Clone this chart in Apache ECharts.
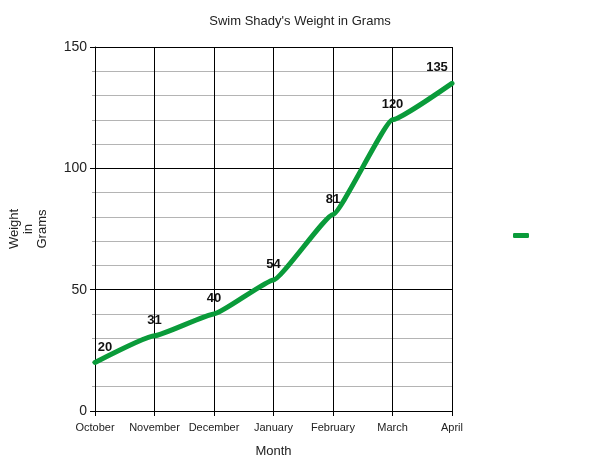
<!DOCTYPE html>
<html>
<head>
<meta charset="utf-8">
<script src="https://cdn.jsdelivr.net/npm/echarts@6/dist/echarts.min.js"></script>
<style>
html,body{margin:0;padding:0;background:#fff;}
#chart{width:600px;height:463px;}
</style>
</head>
<body>
<div id="chart"></div>
<script>
//数据
var months = ['October', 'November', 'December', 'January', 'February', 'March', 'April'];
var weights = [20, 31, 40, 54, 81, 120, 135];
var yTicks = [0, 50, 100, 150];

//折线图
var weightChart = echarts.init(document.getElementById('chart'));
var optionLine = {
    backgroundColor: '#fff',
    textStyle: {fontFamily: 'Liberation Sans, Arial, sans-serif'},
    title: {
        text: "Swim Shady's Weight in Grams",
        left: 'center',
        top: 10,
        textStyle: {fontSize: 13, fontWeight: 'normal', color: '#222'}
    },
    color: ['#0a9b3a'],
    legend: {
        left: 508,
        top: 228,
        icon: 'roundRect',
        itemWidth: 16,
        itemHeight: 5,
        formatter: function () { return ''; },
        selectedMode: false
    },
    grid: {
        left: 95,
        right: 148,
        top: 47,
        bottom: 52,
        outerBoundsMode: 'none'
    },
    xAxis: {
        type: 'category',
        boundaryGap: false,
        data: months,
        name: 'Month',
        nameLocation: 'middle',
        nameGap: 34,
        nameTextStyle: {fontSize: 13, color: '#222'},
        axisLine: {lineStyle: {color: '#000', width: 1}},
        axisTick: {show: true, length: 5, interval: 0, lineStyle: {color: '#000'}},
        axisLabel: {fontSize: 11, color: '#222', margin: 11, interval: 0, hideOverlap: false},
        splitLine: {show: true, interval: 0, lineStyle: {color: '#000', width: 1}}
    },
    yAxis: {
        type: 'value',
        min: yTicks[0],
        max: yTicks[yTicks.length - 1],
        interval: 50,
        name: 'Weight\nin\nGrams',
        nameLocation: 'middle',
        nameGap: 46,
        nameRotate: 90,
        nameTextStyle: {fontSize: 13, color: '#222', align: 'center', lineHeight: 14},
        axisLine: {show: true, lineStyle: {color: '#000', width: 1}},
        axisTick: {show: true, length: 5, lineStyle: {color: '#000'}},
        axisLabel: {fontSize: 14, color: '#222', margin: 8},
        minorTick: {show: true, splitNumber: 5, length: 3, lineStyle: {color: '#aaa'}},
        splitLine: {show: true, lineStyle: {color: '#000', width: 1}},
        minorSplitLine: {show: true, lineStyle: {color: '#b4b4b4', width: 1}}
    },
    series: [
        {
            name: ' ',
            type: 'line',
            data: weights,
            smooth: 0.12,
            smoothMonotone: 'x',
            symbol: 'circle',
            symbolSize: 2,
            showSymbol: true,
            showAllSymbol: true,
            lineStyle: {width: 5, cap: 'round', join: 'round'},
            label: {
                show: true,
                position: 'top',
                distance: 8,
                fontSize: 13,
                fontWeight: 'bold',
                color: '#111'
            },
            //首尾标签往图内挪
            labelLayout: function (params) {
                if (params.dataIndex === 0) return {dx: 10, hideOverlap: false};
                if (params.dataIndex === weights.length - 1) return {dx: -15, hideOverlap: false};
                return {hideOverlap: false};
            }
        }
    ]
};
weightChart.setOption(optionLine);
</script>
</body>
</html>
